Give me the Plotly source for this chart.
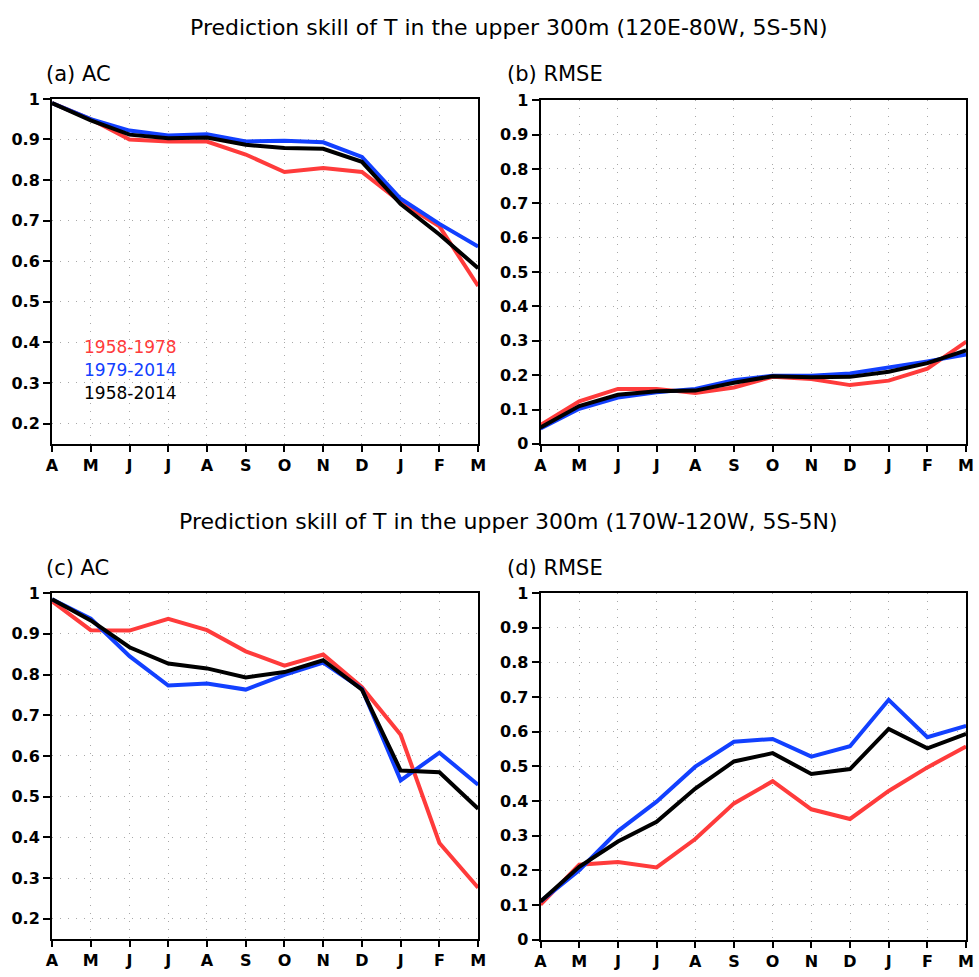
import plotly.graph_objects as go

months = ["A", "M", "J", "J", "A", "S", "O", "N", "D", "J", "F", "M"]
series_names = ["1958-1978", "1979-2014", "1958-2014"]
series_colors = ["#ff3b3b", "#1240ff", "#000000"]

# (a) AC, 120E-80W
ac_a_red = [0.99, 0.95, 0.90, 0.895, 0.895, 0.863, 0.82, 0.83, 0.82, 0.746, 0.686, 0.539]
ac_a_blue = [0.99, 0.95, 0.922, 0.91, 0.913, 0.895, 0.897, 0.893, 0.857, 0.754, 0.692, 0.636]
ac_a_black = [0.99, 0.947, 0.912, 0.903, 0.905, 0.887, 0.879, 0.877, 0.845, 0.741, 0.666, 0.583]

# (b) RMSE, 120E-80W
rmse_b_red = [0.055, 0.124, 0.16, 0.16, 0.148, 0.164, 0.195, 0.189, 0.171, 0.184, 0.219, 0.297]
rmse_b_blue = [0.045, 0.102, 0.135, 0.15, 0.16, 0.185, 0.198, 0.198, 0.205, 0.222, 0.24, 0.26]
rmse_b_black = [0.048, 0.11, 0.143, 0.153, 0.155, 0.178, 0.197, 0.194, 0.195, 0.21, 0.235, 0.272]

# (c) AC, 170W-120W
ac_c_red = [0.98, 0.909, 0.908, 0.937, 0.909, 0.857, 0.822, 0.849, 0.769, 0.652, 0.386, 0.276]
ac_c_blue = [0.985, 0.937, 0.845, 0.773, 0.778, 0.763, 0.799, 0.829, 0.765, 0.54, 0.608, 0.529]
ac_c_black = [0.985, 0.933, 0.867, 0.827, 0.815, 0.793, 0.806, 0.835, 0.763, 0.564, 0.56, 0.47]

# (d) RMSE, 170W-120W
rmse_d_red = [0.101, 0.216, 0.224, 0.208, 0.29, 0.393, 0.457, 0.376, 0.348, 0.429, 0.497, 0.557]
rmse_d_blue = [0.11, 0.2, 0.313, 0.398, 0.499, 0.571, 0.579, 0.528, 0.558, 0.692, 0.584, 0.617]
rmse_d_black = [0.11, 0.21, 0.283, 0.34, 0.436, 0.514, 0.538, 0.478, 0.492, 0.608, 0.552, 0.594]

ac_ticks = [0.2, 0.3, 0.4, 0.5, 0.6, 0.7, 0.8, 0.9, 1.0]
ac_ticktext = ["0.2", "0.3", "0.4", "0.5", "0.6", "0.7", "0.8", "0.9", "1"]
rmse_ticks = [0, 0.1, 0.2, 0.3, 0.4, 0.5, 0.6, 0.7, 0.8, 0.9, 1.0]
rmse_ticktext = ["0", "0.1", "0.2", "0.3", "0.4", "0.5", "0.6", "0.7", "0.8", "0.9", "1"]

title_top = "Prediction skill of T in the upper 300m (120E-80W, 5S-5N)"
title_bottom = "Prediction skill of T in the upper 300m (170W-120W, 5S-5N)"
panel_labels = ["(a) AC", "(b) RMSE", "(c) AC", "(d) RMSE"]

W, H = 979, 977
FONT = "DejaVu Sans"

def fx(p):
    return p / W

def fy(p):
    return 1 - p / H

panels = [
    dict(data=[ac_a_red, ac_a_blue, ac_a_black], x=(46.7, 479), y=(91.7, 443.5),
         yr=[0.15, 1.0], tv=ac_ticks, tt=ac_ticktext),
    dict(data=[rmse_b_red, rmse_b_blue, rmse_b_black], x=(542.3, 974), y=(93, 443.5),
         yr=[0, 1.0], tv=rmse_ticks, tt=rmse_ticktext),
    dict(data=[ac_c_red, ac_c_blue, ac_c_black], x=(46.7, 479), y=(595.7, 948.5),
         yr=[0.15, 1.0], tv=ac_ticks, tt=ac_ticktext),
    dict(data=[rmse_d_red, rmse_d_blue, rmse_d_black], x=(542.3, 974), y=(595.7, 949),
         yr=[0, 1.0], tv=rmse_ticks, tt=rmse_ticktext),
]

fig = go.Figure()
xs = list(range(len(months)))
layout = dict(width=W, height=H, margin=dict(l=0, r=0, t=0, b=0),
              paper_bgcolor="white", plot_bgcolor="white", showlegend=False)

GRID = dict(showgrid=True, gridcolor="#a8a8a8", griddash="1px,7px", gridwidth=1.2,
            zeroline=False)
for i, p in enumerate(panels):
    n = "" if i == 0 else str(i + 1)
    for vals, name, col in zip(p["data"], series_names, series_colors):
        fig.add_trace(go.Scatter(x=xs, y=vals, mode="lines", name=name,
                                 line=dict(color=col, width=4),
                                 xaxis="x" + n, yaxis="y" + n))
    layout["xaxis" + n] = dict(
        domain=[fx(p["x"][0]), fx(p["x"][1])], range=[0, 11], anchor="y" + n,
        tickvals=xs, ticktext=months, ticks="outside", ticklen=6, tickwidth=2,
        tickcolor="black", showline=True, linecolor="black", linewidth=2, mirror=True,
        tickfont=dict(family=FONT, size=16, color="black", weight="bold"), fixedrange=True,
        **GRID)
    layout["yaxis" + n] = dict(
        domain=[fy(p["y"][1]), fy(p["y"][0])], range=p["yr"], anchor="x" + n,
        tickvals=p["tv"], ticktext=p["tt"], ticks="outside", ticklen=7, tickwidth=2,
        tickcolor="black", showline=True, linecolor="black", linewidth=2, mirror=True,
        tickfont=dict(family=FONT, size=16, color="black", weight="bold"), fixedrange=True,
        **GRID)

annotations = []
annotations.append(dict(text=title_top, x=fx(510), y=fy(19), xref="paper", yref="paper",
                        showarrow=False, xanchor="center", yanchor="middle",
                        font=dict(family=FONT, size=22, color="black")))
annotations.append(dict(text=title_bottom, x=fx(510), y=fy(523), xref="paper", yref="paper",
                        showarrow=False, xanchor="center", yanchor="middle",
                        font=dict(family=FONT, size=22, color="black")))
label_pos = [(39, 66), (506, 66), (39, 570), (506, 570)]
for lab, (px, py) in zip(panel_labels, label_pos):
    annotations.append(dict(text=lab, x=fx(px), y=fy(py), xref="paper", yref="paper",
                            showarrow=False, xanchor="left", yanchor="middle",
                            font=dict(family=FONT, size=21, color="black")))
legend_y = [345, 368, 392]
for name, col, py in zip(series_names, series_colors, legend_y):
    annotations.append(dict(text=name, x=fx(77), y=fy(py), xref="paper", yref="paper",
                            showarrow=False, xanchor="left", yanchor="middle",
                            font=dict(family=FONT, size=17, color=col)))
layout["annotations"] = annotations

fig.update_layout(**layout)
fig.write_html("out.html")
